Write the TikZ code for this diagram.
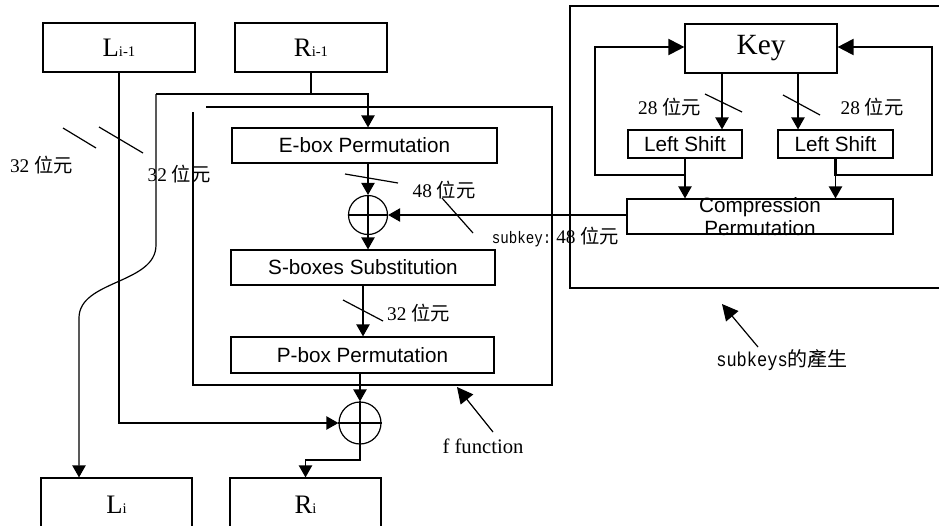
\documentclass[tikz,border=0pt]{standalone}
\usepackage{fontspec}
\setmainfont{Liberation Serif}
\newfontfamily\cjk{Noto Sans CJK TC}
\newfontfamily\sansf{Liberation Sans}
\newfontfamily\monof[FakeStretch=0.85]{Liberation Mono}
\usetikzlibrary{arrows.meta}
\newcommand{\bitlab}[1]{#1 {\cjk 位元}}
\newcommand{\subbox}[2]{{\fontsize{20}{20}\selectfont #1}{\fontsize{11}{11}\selectfont #2}}
\begin{document}
\begin{tikzpicture}[x=0.75pt,y=-0.75pt,
  line width=0.9pt,
  box/.style={draw, rectangle, inner sep=0pt, line width=0.9pt},
  sbox/.style={box, font=\sansf\fontsize{15.5}{17}\selectfont},
  arr/.style={-{Triangle[width=10pt,length=9pt]}},
  bigarr/.style={-{Triangle[width=12pt,length=12pt]}},
  lab/.style={inner sep=0pt, font=\fontsize{14.5}{16}\selectfont},
  xor/.style={draw, circle, inner sep=0pt},
  outerframe/.style={line width=1.1pt},
  keyloop/.style={line width=1.6pt}
]
\useasboundingbox (0,0) rectangle (939,525);

% main boxes
\node[box, minimum width=114pt, minimum height=36.75pt] (Lm1) at (119,47.5) {\subbox{L}{i-1}};
\node[box, minimum width=114pt, minimum height=36.75pt] (Rm1) at (311,47.5) {\subbox{R}{i-1}};
\node[box, minimum width=113.25pt, minimum height=40.5pt] (Li) at (116.5,505) {\subbox{L}{i}};
\node[box, minimum width=113.25pt, minimum height=40.5pt] (Ri) at (305.5,505) {\subbox{R}{i}};

\node[sbox, minimum width=198.75pt, minimum height=26.25pt] (ebox) at (364.5,145.5) {E-box Permutation};
\node[sbox, minimum width=198pt, minimum height=26.25pt] (sb) at (363,267.5) {S-boxes Substitution};
\node[sbox, minimum width=197.25pt, minimum height=27pt] (pb) at (362.5,355) {P-box Permutation};

\node[xor, minimum size=29.25pt] (x1) at (368,215) {};
\node[xor, minimum size=31.5pt] (x2) at (360,423) {};
\draw (x1.north) -- (x1.south) (x1.west) -- (x1.east);
\draw (x2.north) -- (x2.south) (x2.west) -- (x2.east);

% f function frame
\draw[outerframe] (206,107) -- (552,107) -- (552,385) -- (193,385) -- (193,112);

% key schedule
\draw[outerframe] (945,6) -- (570,6) -- (570,288) -- (945,288);
\node[box, minimum width=114pt, minimum height=36.75pt, font=\fontsize{22}{24}\selectfont] (key) at (761,48.5) {Key};
\node[sbox, minimum width=85.5pt, minimum height=21pt] (ls1) at (685,144) {Left Shift};
\node[sbox, minimum width=86.25pt, minimum height=21pt] (ls2) at (835.5,144) {Left Shift};
\node[box, minimum width=199.5pt, minimum height=26.25pt] (comp) at (760,216.5) {};
\node[inner sep=0pt, align=center, font=\sansf\fontsize{15.5}{17.5}\selectfont] (compt) at (760,216.5) {Compression\\Permutation};

\coordinate (kl) at (722,73);
\coordinate (kr) at (798,73);
\draw[arr] (kl) -- (kl |- ls1.north);
\draw[arr] (kr) -- (kr |- ls2.north);
\coordinate (jl) at (685,175);
\coordinate (jr) at (835.5,175);
\draw[keyloop, bigarr] (ls1.south) -- (jl) -- (595,175) -- (595,47) -- (key.west |- 0,47);
\draw[keyloop, bigarr] (ls2.south) -- (jr) -- (932,175) -- (932,47) -- (key.east |- 0,47);
\draw[arr] (jl) -- (jl |- comp.north);
\draw[arr] (jr) -- (jr |- comp.north);
\draw (705,94) -- (742,112);
\draw (783,95) -- (820,115);
\node[lab] (b28l) at (669.5,107) {\bitlab{28}};
\node[lab] (b28r) at (872,107) {\bitlab{28}};

% data paths
\coordinate (lb) at (156,94);
\coordinate (lc) at (79,318);
\draw (Rm1.south) -- (Rm1.south |- lb);
\draw[arr] (lb) -- (lb -| x1) -- (ebox.north -| x1);
\draw[arr] (lb) -- (156,245) .. controls (156,284) and (79,280) .. (lc) -- (lc |- Li.north);
\draw[arr] (ebox.south -| x1) -- (x1.north);
\draw[arr] (x1.south) -- (sb.north -| x1);
\draw[arr] (sb.south) -- (sb.south |- pb.north);
\draw[arr] (pb.south -| x2) -- (x2.north);
\draw[arr] (Lm1.south) -- (Lm1.south |- x2) -- (x2.west);
\coordinate (rj) at (360,460);
\draw[arr] (x2.south) -- (rj) -- (rj -| Ri.north) -- (Ri.north);
\draw[arr] (comp.west |- x1.east) -- (x1.east);

% bit-width slashes and labels
\draw (63,128) -- (96,148);
\draw (99,127) -- (143,153);
\node[lab] (b32a) at (41.5,165) {\bitlab{32}};
\node[lab] (b32b) at (179,174) {\bitlab{32}};
\draw (345,174) -- (398,183);
\node[lab] (b48) at (444,190) {\bitlab{48}};
\draw (343,300) -- (383,321);
\node[lab] (b32c) at (418.5,313) {\bitlab{32}};

% subkey label
\coordinate (sl1) at (442,198);
\coordinate (sl2) at (473,233);
\draw (sl1) -- (sl2);
\node[inner sep=0pt] (sk) at (555.5,237)
  {{\monof\fontsize{12.5}{14}\selectfont subkey:}\fontsize{14.5}{16}\selectfont\ \bitlab{48}};

% f function label
\coordinate (fa) at (493,432);
\coordinate (fb) at (457,387);
\draw[bigarr] (fa) -- (fb);
\node[inner sep=0pt, font=\fontsize{15.5}{17}\selectfont] (ff) at (483,446) {f function};

% subkeys label
\coordinate (ga) at (758,347);
\coordinate (gb) at (722,304);
\draw[bigarr] (ga) -- (gb);
\node[inner sep=0pt] (sks) at (782,360)
  {{\monof\fontsize{15}{17}\selectfont subkeys}{\cjk\fontsize{15}{17}\selectfont 的產生}};
\end{tikzpicture}
\end{document}
